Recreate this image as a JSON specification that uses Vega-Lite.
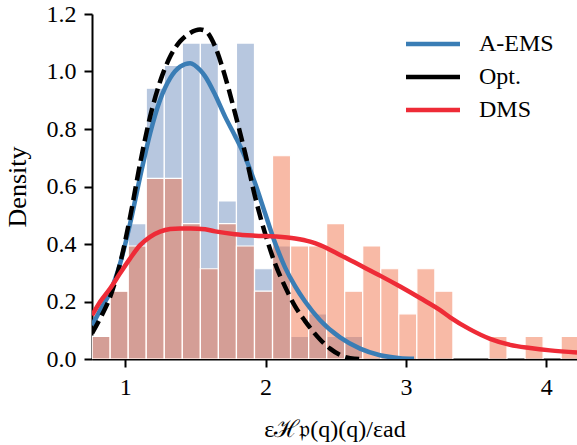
{
  "$schema": "https://vega.github.io/schema/vega-lite/v6.json",
  "width": 485,
  "height": 345,
  "autosize": {"type": "none"},
  "padding": {"left": 92, "top": 14, "right": 0, "bottom": 86},
  "config": {
    "view": {"stroke": null},
    "font": "Liberation Serif",
    "axis": {
      "labelFont": "Liberation Serif",
      "titleFont": "Liberation Serif",
      "labelColor": "black",
      "titleColor": "black",
      "domainColor": "black",
      "tickColor": "black",
      "domainWidth": 2,
      "tickWidth": 2,
      "tickSize": 8,
      "grid": false,
      "labelFontSize": 24,
      "titleFontWeight": "normal"
    }
  },
  "datasets": {
    "hist": [
      {"s": "A-EMS", "x0": 0.765, "x1": 0.8935, "d": 0.079},
      {"s": "A-EMS", "x0": 0.8935, "x1": 1.022, "d": 0.236},
      {"s": "A-EMS", "x0": 1.022, "x1": 1.1505, "d": 0.471},
      {"s": "A-EMS", "x0": 1.1505, "x1": 1.279, "d": 0.942},
      {"s": "A-EMS", "x0": 1.279, "x1": 1.4075, "d": 1.021},
      {"s": "A-EMS", "x0": 1.4075, "x1": 1.536, "d": 1.099},
      {"s": "A-EMS", "x0": 1.536, "x1": 1.6645, "d": 1.099},
      {"s": "A-EMS", "x0": 1.6645, "x1": 1.793, "d": 0.55},
      {"s": "A-EMS", "x0": 1.793, "x1": 1.9215, "d": 1.099},
      {"s": "A-EMS", "x0": 1.9215, "x1": 2.05, "d": 0.314},
      {"s": "A-EMS", "x0": 2.05, "x1": 2.1785, "d": 0.393},
      {"s": "A-EMS", "x0": 2.1785, "x1": 2.307, "d": 0.079},
      {"s": "A-EMS", "x0": 2.307, "x1": 2.4355, "d": 0.157},
      {"s": "A-EMS", "x0": 2.4355, "x1": 2.564, "d": 0.079},
      {"s": "A-EMS", "x0": 2.564, "x1": 2.6925, "d": 0.079},
      {"s": "DMS", "x0": 0.765, "x1": 0.8935, "d": 0.079},
      {"s": "DMS", "x0": 0.8935, "x1": 1.022, "d": 0.236},
      {"s": "DMS", "x0": 1.022, "x1": 1.1505, "d": 0.393},
      {"s": "DMS", "x0": 1.1505, "x1": 1.279, "d": 0.628},
      {"s": "DMS", "x0": 1.279, "x1": 1.4075, "d": 0.628},
      {"s": "DMS", "x0": 1.4075, "x1": 1.536, "d": 0.471},
      {"s": "DMS", "x0": 1.536, "x1": 1.6645, "d": 0.314},
      {"s": "DMS", "x0": 1.6645, "x1": 1.793, "d": 0.471},
      {"s": "DMS", "x0": 1.793, "x1": 1.9215, "d": 0.393},
      {"s": "DMS", "x0": 1.9215, "x1": 2.05, "d": 0.236},
      {"s": "DMS", "x0": 2.05, "x1": 2.1785, "d": 0.707},
      {"s": "DMS", "x0": 2.1785, "x1": 2.307, "d": 0.393},
      {"s": "DMS", "x0": 2.307, "x1": 2.4355, "d": 0.393},
      {"s": "DMS", "x0": 2.4355, "x1": 2.564, "d": 0.471},
      {"s": "DMS", "x0": 2.564, "x1": 2.6925, "d": 0.236},
      {"s": "DMS", "x0": 2.6925, "x1": 2.821, "d": 0.393},
      {"s": "DMS", "x0": 2.821, "x1": 2.9495, "d": 0.314},
      {"s": "DMS", "x0": 2.9495, "x1": 3.078, "d": 0.157},
      {"s": "DMS", "x0": 3.078, "x1": 3.2065, "d": 0.314},
      {"s": "DMS", "x0": 3.2065, "x1": 3.335, "d": 0.236},
      {"s": "DMS", "x0": 3.592, "x1": 3.7205, "d": 0.079},
      {"s": "DMS", "x0": 3.849, "x1": 3.9775, "d": 0.079},
      {"s": "DMS", "x0": 4.106, "x1": 4.2345, "d": 0.079}
    ],
    "kde": [
      {"s": "A-EMS", "x0": 0.765, "d": 0.117},
      {"s": "A-EMS", "x0": 0.822, "d": 0.17},
      {"s": "A-EMS", "x0": 0.893, "d": 0.233},
      {"s": "A-EMS", "x0": 0.964, "d": 0.332},
      {"s": "A-EMS", "x0": 1.036, "d": 0.472},
      {"s": "A-EMS", "x0": 1.107, "d": 0.634},
      {"s": "A-EMS", "x0": 1.178, "d": 0.785},
      {"s": "A-EMS", "x0": 1.249, "d": 0.901},
      {"s": "A-EMS", "x0": 1.321, "d": 0.977},
      {"s": "A-EMS", "x0": 1.392, "d": 1.017},
      {"s": "A-EMS", "x0": 1.463, "d": 1.029},
      {"s": "A-EMS", "x0": 1.534, "d": 1.005},
      {"s": "A-EMS", "x0": 1.57, "d": 0.983},
      {"s": "A-EMS", "x0": 1.641, "d": 0.919},
      {"s": "A-EMS", "x0": 1.712, "d": 0.843},
      {"s": "A-EMS", "x0": 1.783, "d": 0.776},
      {"s": "A-EMS", "x0": 1.855, "d": 0.702},
      {"s": "A-EMS", "x0": 1.926, "d": 0.611},
      {"s": "A-EMS", "x0": 1.997, "d": 0.507},
      {"s": "A-EMS", "x0": 2.068, "d": 0.404},
      {"s": "A-EMS", "x0": 2.14, "d": 0.318},
      {"s": "A-EMS", "x0": 2.211, "d": 0.253},
      {"s": "A-EMS", "x0": 2.282, "d": 0.2},
      {"s": "A-EMS", "x0": 2.389, "d": 0.135},
      {"s": "A-EMS", "x0": 2.531, "d": 0.075},
      {"s": "A-EMS", "x0": 2.674, "d": 0.036},
      {"s": "A-EMS", "x0": 2.816, "d": 0.013},
      {"s": "A-EMS", "x0": 2.959, "d": 0.003},
      {"s": "A-EMS", "x0": 3.058, "d": 0.001},
      {"s": "Opt.", "x0": 0.765, "d": 0.09},
      {"s": "Opt.", "x0": 0.822, "d": 0.141},
      {"s": "Opt.", "x0": 0.893, "d": 0.216},
      {"s": "Opt.", "x0": 0.964, "d": 0.332},
      {"s": "Opt.", "x0": 1.036, "d": 0.495},
      {"s": "Opt.", "x0": 1.107, "d": 0.681},
      {"s": "Opt.", "x0": 1.178, "d": 0.843},
      {"s": "Opt.", "x0": 1.249, "d": 0.965},
      {"s": "Opt.", "x0": 1.321, "d": 1.052},
      {"s": "Opt.", "x0": 1.392, "d": 1.105},
      {"s": "Opt.", "x0": 1.463, "d": 1.134},
      {"s": "Opt.", "x0": 1.534, "d": 1.146},
      {"s": "Opt.", "x0": 1.57, "d": 1.142},
      {"s": "Opt.", "x0": 1.641, "d": 1.087},
      {"s": "Opt.", "x0": 1.712, "d": 0.983},
      {"s": "Opt.", "x0": 1.783, "d": 0.855},
      {"s": "Opt.", "x0": 1.855, "d": 0.716},
      {"s": "Opt.", "x0": 1.926, "d": 0.564},
      {"s": "Opt.", "x0": 1.997, "d": 0.437},
      {"s": "Opt.", "x0": 2.068, "d": 0.332},
      {"s": "Opt.", "x0": 2.14, "d": 0.251},
      {"s": "Opt.", "x0": 2.211, "d": 0.183},
      {"s": "Opt.", "x0": 2.282, "d": 0.132},
      {"s": "Opt.", "x0": 2.389, "d": 0.068},
      {"s": "Opt.", "x0": 2.46, "d": 0.036},
      {"s": "Opt.", "x0": 2.531, "d": 0.014},
      {"s": "Opt.", "x0": 2.603, "d": 0.003},
      {"s": "Opt.", "x0": 2.688, "d": 0.0},
      {"s": "DMS", "x0": 0.765, "d": 0.152},
      {"s": "DMS", "x0": 0.822, "d": 0.199},
      {"s": "DMS", "x0": 0.893, "d": 0.245},
      {"s": "DMS", "x0": 0.964, "d": 0.298},
      {"s": "DMS", "x0": 1.036, "d": 0.35},
      {"s": "DMS", "x0": 1.107, "d": 0.396},
      {"s": "DMS", "x0": 1.178, "d": 0.425},
      {"s": "DMS", "x0": 1.249, "d": 0.443},
      {"s": "DMS", "x0": 1.321, "d": 0.452},
      {"s": "DMS", "x0": 1.392, "d": 0.454},
      {"s": "DMS", "x0": 1.463, "d": 0.454},
      {"s": "DMS", "x0": 1.57, "d": 0.451},
      {"s": "DMS", "x0": 1.641, "d": 0.444},
      {"s": "DMS", "x0": 1.783, "d": 0.434},
      {"s": "DMS", "x0": 1.926, "d": 0.429},
      {"s": "DMS", "x0": 2.068, "d": 0.426},
      {"s": "DMS", "x0": 2.211, "d": 0.419},
      {"s": "DMS", "x0": 2.318, "d": 0.408},
      {"s": "DMS", "x0": 2.389, "d": 0.396},
      {"s": "DMS", "x0": 2.531, "d": 0.362},
      {"s": "DMS", "x0": 2.674, "d": 0.326},
      {"s": "DMS", "x0": 2.816, "d": 0.29},
      {"s": "DMS", "x0": 2.959, "d": 0.252},
      {"s": "DMS", "x0": 3.101, "d": 0.212},
      {"s": "DMS", "x0": 3.244, "d": 0.17},
      {"s": "DMS", "x0": 3.315, "d": 0.145},
      {"s": "DMS", "x0": 3.457, "d": 0.103},
      {"s": "DMS", "x0": 3.6, "d": 0.07},
      {"s": "DMS", "x0": 3.742, "d": 0.049},
      {"s": "DMS", "x0": 3.885, "d": 0.038},
      {"s": "DMS", "x0": 4.027, "d": 0.03},
      {"s": "DMS", "x0": 4.219, "d": 0.023}
    ]
  },
  "encoding": {
    "x": {
      "field": "x0",
      "type": "quantitative",
      "scale": {"domain": [0.764, 4.219], "nice": false, "zero": false},
      "axis": {
        "values": [1, 2, 3, 4],
        "format": "d",
        "labelPadding": 8,
        "title": "εℋ𝔭(q)(q)/εad",
        "titleFontSize": 24,
        "titlePadding": 18
      }
    },
    "y": {
      "field": "d",
      "type": "quantitative",
      "scale": {"domain": [0, 1.2], "nice": false},
      "axis": {
        "values": [0, 0.2, 0.4, 0.6, 0.8, 1.0, 1.2],
        "format": ".1f",
        "labelPadding": 8,
        "title": "Density",
        "titleFontSize": 26,
        "titlePadding": 16
      }
    }
  },
  "layer": [
    {
      "data": {"name": "hist"},
      "transform": [{"filter": "datum.s === 'A-EMS'"}],
      "mark": {"type": "rect", "fill": "#b7c7df", "stroke": "white", "strokeWidth": 1.2, "clip": true},
      "encoding": {"x2": {"field": "x1"}, "y2": {"datum": 0}}
    },
    {
      "data": {"name": "hist"},
      "transform": [{"filter": "datum.s === 'DMS'"}],
      "mark": {"type": "rect", "fill": "#f1754d", "fillOpacity": 0.5, "stroke": "white", "strokeWidth": 1.2, "clip": true},
      "encoding": {"x2": {"field": "x1"}, "y2": {"datum": 0}}
    },
    {
      "data": {"name": "kde"},
      "transform": [{"filter": "datum.s === 'A-EMS'"}],
      "mark": {"type": "line", "strokeWidth": 4.5, "interpolate": "monotone", "clip": true},
      "encoding": {
        "color": {
          "field": "s",
          "type": "nominal",
          "scale": {"domain": ["A-EMS", "Opt.", "DMS"], "range": ["#3a7db5", "#000000", "#ee2b37"]},
          "legend": {
            "title": null,
            "orient": "none",
            "legendX": 329,
            "legendY": 18,
            "padding": 0,
            "symbolType": "M-3,0H3",
            "symbolSize": 324,
            "symbolStrokeWidth": 4.5,
            "labelFont": "Liberation Serif",
            "labelFontSize": 24,
            "labelColor": "black",
            "labelOffset": 34,
            "rowPadding": 9
          }
        }
      }
    },
    {
      "data": {"name": "kde"},
      "transform": [{"filter": "datum.s === 'Opt.'"}],
      "mark": {"type": "line", "strokeWidth": 4.5, "strokeDash": [14, 6], "interpolate": "monotone", "clip": true},
      "encoding": {"color": {"field": "s", "type": "nominal"}}
    },
    {
      "data": {"name": "kde"},
      "transform": [{"filter": "datum.s === 'DMS'"}],
      "mark": {"type": "line", "strokeWidth": 4.5, "interpolate": "monotone", "clip": true},
      "encoding": {"color": {"field": "s", "type": "nominal"}}
    }
  ]
}
